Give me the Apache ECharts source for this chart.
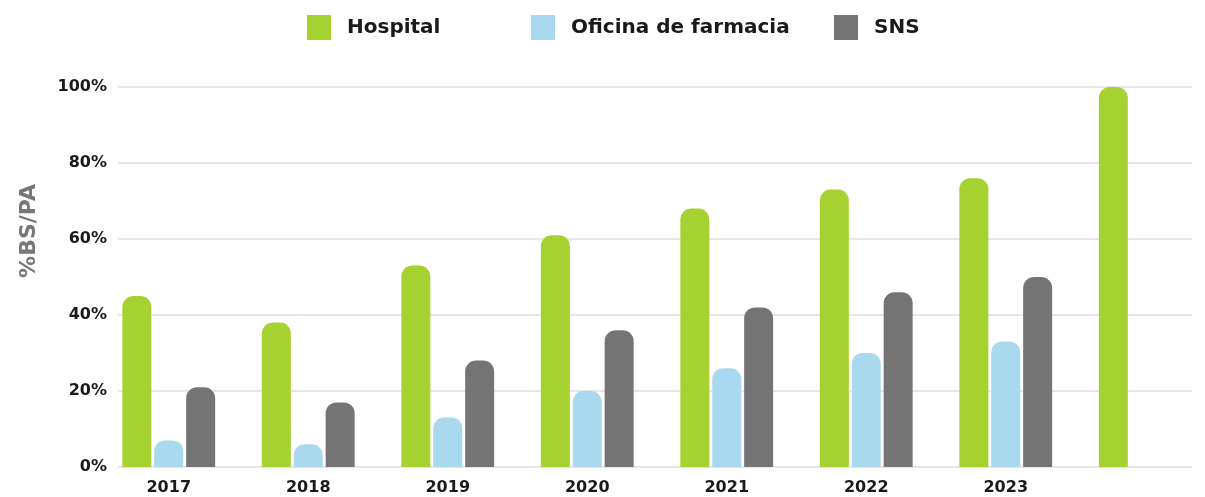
<!DOCTYPE html>
<html>
<head>
<meta charset="utf-8">
<script src="https://cdn.jsdelivr.net/npm/echarts@6/dist/echarts.min.js"></script>
<style>
  html, body { margin: 0; padding: 0; background: #fff; }
  #chart { width: 1205px; height: 497px; }
</style>
</head>
<body>
<div id="chart"></div>
<script>
// datos
const years = ['2017', '2018', '2019', '2020', '2021', '2022', '2023', ''];
const hospital = [45, 38, 53, 61, 68, 73, 76, 100];
const oficina = [7, 6, 13, 20, 26, 30, 33, null];
const sns = [21, 17, 28, 36, 42, 46, 50, null];
const yTicks = [0, 20, 40, 60, 80, 100];

const FONT = 'DejaVu Sans';
const chart = echarts.init(document.getElementById('chart'), null, { renderer: 'canvas' });

const barStyle = function (color) {
  return { color: color, borderRadius: [11, 11, 0, 0] };
};

// una leyenda por serie, para colocarlas donde estan en la imagen
const legendItem = function (name, left) {
  return {
    top: 10,
    left: left,
    itemWidth: 24,
    itemHeight: 25,
    icon: 'rect',
    selectedMode: false,
    textStyle: { fontSize: 20, fontWeight: 'bold', color: '#1a1a1a', fontFamily: FONT, padding: [0, 0, 0, 11] },
    data: [name]
  };
};

const option = {
  animation: false,
  textStyle: { fontFamily: FONT },
  legend: [
    legendItem('Hospital', 302),
    legendItem('Oficina de farmacia', 526),
    legendItem('SNS', 829)
  ],
  grid: [
    { left: 118, right: 13, top: 87, bottom: 30, outerBoundsMode: 'none' },
    { left: 99, width: 1116, top: 87, bottom: 30, outerBoundsMode: 'none' }
  ],
  xAxis: [
    { gridIndex: 0, type: 'value', min: 0, max: 1, show: false },
    {
      gridIndex: 1,
      type: 'category',
      data: years,
      axisLine: { show: false },
      axisTick: { show: false },
      axisLabel: { margin: 13, fontSize: 16, fontWeight: 'bold', color: '#1a1a1a', fontFamily: FONT }
    }
  ],
  yAxis: [
    {
      gridIndex: 0,
      type: 'value',
      min: yTicks[0],
      max: yTicks[yTicks.length - 1],
      interval: 20,
      name: '%BS/PA',
      nameLocation: 'middle',
      nameGap: 78,
      nameTextStyle: { fontSize: 22, fontWeight: 'bold', color: '#777', fontFamily: FONT, padding: [0, 0, 0, 92] },
      axisLine: { show: false },
      axisTick: { show: false },
      axisLabel: { margin: 11, fontSize: 16, fontWeight: 'bold', color: '#1a1a1a', fontFamily: FONT, formatter: '{value}%' },
      splitLine: { lineStyle: { color: '#dedede', width: 1.5 } }
    },
    { gridIndex: 1, type: 'value', min: 0, max: 100, show: false }
  ],
  series: [
    {
      name: 'Hospital', type: 'bar', xAxisIndex: 1, yAxisIndex: 1,
      data: hospital, barWidth: 29, barGap: '10%',
      itemStyle: barStyle('#a6d231')
    },
    {
      name: 'Oficina de farmacia', type: 'bar', xAxisIndex: 1, yAxisIndex: 1,
      data: oficina, barWidth: 29, barGap: '10%',
      itemStyle: barStyle('#a9d9ef')
    },
    {
      name: 'SNS', type: 'bar', xAxisIndex: 1, yAxisIndex: 1,
      data: sns, barWidth: 29, barGap: '10%',
      itemStyle: barStyle('#747474')
    }
  ]
};

option && chart.setOption(option);
</script>
</body>
</html>
